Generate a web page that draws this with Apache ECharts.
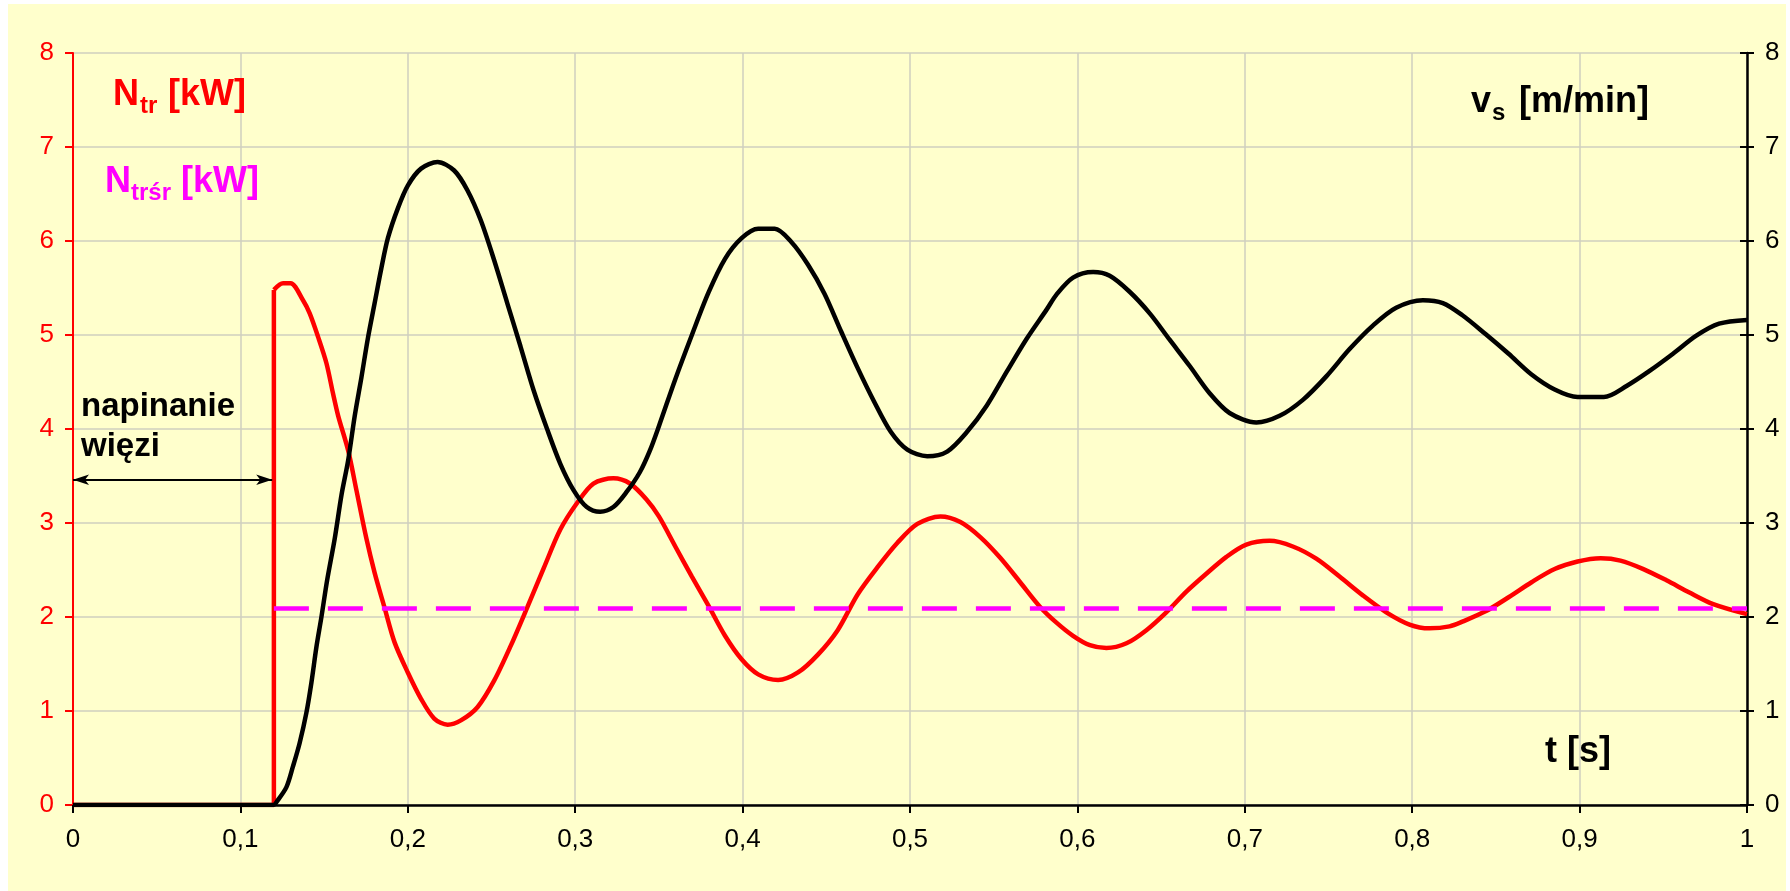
<!DOCTYPE html>
<html>
<head>
<meta charset="utf-8">
<style>
  html, body { margin: 0; padding: 0; background: #ffffff; }
  #bg { position: absolute; left: 8px; top: 4px; width: 1778px; height: 887px; background: #FFFFCC; }
  #c { position: absolute; left: 0; top: 0; width: 1790px; height: 891px; }
</style>
<script src="https://cdn.jsdelivr.net/npm/echarts/dist/echarts.min.js"></script>
</head>
<body>
<div id="bg"></div>
<div id="c"></div>
<script>
// ---- data ----
const xTicks = [0, 0.1, 0.2, 0.3, 0.4, 0.5, 0.6, 0.7, 0.8, 0.9, 1];
const yTicks = [0, 1, 2, 3, 4, 5, 6, 7, 8];

// N_tr [kW] (left axis)
const tN = [0, 0.12, 0.12, 0.1255, 0.13, 0.1374, 0.1414, 0.1464, 0.1514, 0.1553, 0.1584, 0.1644, 0.1693, 0.1752,
  0.1802, 0.1861, 0.1921, 0.2, 0.2079, 0.2158, 0.2238, 0.2317, 0.2416, 0.2515, 0.2614, 0.2713, 0.2812,
  0.2911, 0.301, 0.3109, 0.3228, 0.3327, 0.3426, 0.35, 0.3598, 0.3697, 0.3796, 0.3895, 0.3994, 0.4093,
  0.4212, 0.4331, 0.445, 0.4568, 0.4687, 0.4806, 0.4925, 0.5044, 0.5182, 0.5301, 0.542, 0.5539, 0.5658,
  0.5776, 0.5875, 0.5974, 0.6074, 0.6173, 0.6293, 0.6412, 0.6531, 0.6651, 0.677, 0.689, 0.7009, 0.7148,
  0.7287, 0.7427, 0.7566, 0.7705, 0.7845, 0.7984, 0.8103, 0.8223, 0.83, 0.8438, 0.8576, 0.8713, 0.8851,
  0.8988, 0.9126, 0.9244, 0.9381, 0.9519, 0.9656, 0.9794, 1.0];
const N = [0, 0, 5.48, 5.55, 5.55, 5.37, 5.23, 4.98, 4.70, 4.38, 4.14, 3.77, 3.35, 2.84,
  2.47, 2.10, 1.73, 1.41, 1.13, 0.92, 0.855, 0.90, 1.04, 1.32, 1.69, 2.10, 2.52,
  2.93, 3.21, 3.42, 3.475, 3.42, 3.25, 3.07, 2.75, 2.43, 2.12, 1.80, 1.55, 1.39,
  1.33, 1.41, 1.60, 1.86, 2.24, 2.53, 2.79, 2.99, 3.07, 3.01, 2.85, 2.63, 2.37,
  2.11, 1.94, 1.80, 1.70, 1.67, 1.72, 1.86, 2.05, 2.27, 2.46, 2.64, 2.77, 2.81,
  2.75, 2.62, 2.43, 2.23, 2.05, 1.92, 1.88, 1.90, 1.95, 2.06, 2.21, 2.37, 2.51,
  2.59, 2.625, 2.60, 2.51, 2.39, 2.26, 2.14, 2.03];

// v_s [m/min] (right axis)
const tV = [0, 0.12, 0.1215, 0.1275, 0.1314, 0.1354, 0.1394, 0.1424, 0.1454, 0.1484, 0.1518, 0.1564, 0.1604,
  0.1644, 0.1683, 0.1723, 0.1762, 0.1802, 0.1842, 0.1881, 0.1941, 0.2, 0.2079, 0.2178, 0.2277, 0.2356,
  0.2436, 0.2515, 0.2594, 0.2673, 0.2752, 0.2832, 0.2911, 0.299, 0.3069, 0.3149, 0.3228, 0.3307, 0.3386,
  0.3446, 0.35, 0.3598, 0.3697, 0.3796, 0.3895, 0.3994, 0.4093, 0.4192, 0.4291, 0.439, 0.4489, 0.4588,
  0.4687, 0.4786, 0.4885, 0.4984, 0.5103, 0.5222, 0.5341, 0.5459, 0.5578, 0.5697, 0.5816, 0.5875, 0.5974,
  0.6094, 0.6193, 0.6312, 0.6432, 0.6551, 0.6671, 0.679, 0.6909, 0.7069, 0.7208, 0.7347, 0.7487, 0.7626,
  0.7765, 0.7904, 0.8064, 0.8183, 0.83, 0.8438, 0.8576, 0.8713, 0.8851, 0.8988, 0.9145, 0.9283, 0.942,
  0.9558, 0.9695, 0.9833, 1.0];
const V = [0, 0, 0.03, 0.19, 0.41, 0.66, 0.98, 1.30, 1.68, 2.0, 2.39, 2.84, 3.30,
  3.67, 4.14, 4.55, 4.97, 5.34, 5.71, 6.03, 6.35, 6.59, 6.77, 6.84, 6.75, 6.54,
  6.22, 5.80, 5.34, 4.88, 4.41, 4.00, 3.63, 3.35, 3.17, 3.12, 3.17, 3.33, 3.54,
  3.77, 4.03, 4.53, 5.0, 5.45, 5.81, 6.03, 6.13, 6.13, 5.99, 5.75, 5.44, 5.04,
  4.65, 4.29, 3.97, 3.78, 3.71, 3.76, 3.97, 4.25, 4.61, 4.96, 5.27, 5.43, 5.61,
  5.67, 5.63, 5.46, 5.23, 4.95, 4.67, 4.38, 4.17, 4.07, 4.14, 4.31, 4.56, 4.85,
  5.10, 5.29, 5.37, 5.34, 5.21, 5.01, 4.80, 4.58, 4.42, 4.34, 4.34, 4.46, 4.62,
  4.80, 4.99, 5.12, 5.16];

// N_trśr [kW] mean line
const tMean = [0.12, 1.0];
const NMean = [2.09, 2.09];

// "napinanie więzi" arrow (t range, level)
const arrowT = [0, 0.119];
const arrowLevel = 3.46;

// ---- chart ----
const FONT = "'Liberation Sans', Arial, sans-serif";
const zip = (a, b) => a.map((x, i) => [x, b[i]]);
const fmt = v => String(Math.round(v * 10) / 10).replace('.', ',');
const JUMP = 2; // index of the step-up point in the N_tr series

function txt(text, x, baseline, size, color) {
  return {
    type: 'text', x: x, y: baseline - 0.35 * size, silent: true, z: 100,
    style: {
      text: text, fill: color, font: 'bold ' + size + 'px ' + FONT,
      align: 'left', verticalAlign: 'middle', textAlign: 'left', textVerticalAlign: 'middle'
    }
  };
}

const RED = '#ff0000', MAG = '#ff00ff', GRID = '#cfcfbf';
const chart = echarts.init(document.getElementById('c'), null, { renderer: 'canvas' });
chart.setOption({
  animation: false,
  backgroundColor: 'transparent',
  grid: { left: 73, right: 43, top: 53, bottom: 86, containLabel: false, outerBoundsMode: 'none' },
  xAxis: {
    type: 'value', min: xTicks[0], max: xTicks[xTicks.length - 1], interval: 0.1,
    axisLine: { show: true, onZero: false, lineStyle: { color: '#000', width: 2.5 } },
    axisTick: { show: true, length: 8, lineStyle: { color: '#000', width: 2 } },
    axisLabel: { color: '#000', fontSize: 26, fontFamily: FONT, margin: 22, formatter: fmt },
    splitLine: { show: true, lineStyle: { color: GRID, width: 1.5 } }
  },
  yAxis: [
    {
      type: 'value', position: 'left', min: yTicks[0], max: yTicks[yTicks.length - 1], interval: 1,
      axisLine: { show: true, lineStyle: { color: RED, width: 2 } },
      axisTick: { show: true, length: 8, lineStyle: { color: RED, width: 2 } },
      axisLabel: { color: RED, fontSize: 26, fontFamily: FONT, margin: 19 },
      splitLine: { show: true, lineStyle: { color: GRID, width: 1.5 } }
    },
    {
      type: 'value', position: 'right', min: yTicks[0], max: yTicks[yTicks.length - 1], interval: 1,
      axisLine: { show: true, lineStyle: { color: '#000', width: 2.5 } },
      axisTick: { show: true, length: 7, lineStyle: { color: '#000', width: 2 } },
      axisLabel: { color: '#000', fontSize: 26, fontFamily: FONT, margin: 18 },
      splitLine: { show: false }
    },
    {
      type: 'value', position: 'right', min: yTicks[0], max: yTicks[yTicks.length - 1], interval: 1,
      axisLine: { show: false },
      axisTick: { show: true, inside: true, length: 7, lineStyle: { color: '#000', width: 2 } },
      axisLabel: { show: false },
      splitLine: { show: false }
    }
  ],
  series: [
    {
      name: 'Ntr', type: 'line', yAxisIndex: 0,
      data: zip(tN.slice(0, JUMP + 1), N.slice(0, JUMP + 1)), showSymbol: false, smooth: false,
      lineStyle: { color: RED, width: 4.5 }, itemStyle: { color: RED }, z: 3
    },
    {
      name: 'Ntr', type: 'line', yAxisIndex: 0,
      data: zip(tN.slice(JUMP), N.slice(JUMP)), showSymbol: false, smooth: 0.3,
      lineStyle: { color: RED, width: 4.5 }, itemStyle: { color: RED }, z: 3
    },
    {
      name: 'vs', type: 'line', yAxisIndex: 1, data: zip(tV, V), showSymbol: false, smooth: 0.3,
      lineStyle: { color: '#000000', width: 4.5 }, itemStyle: { color: '#000' }, z: 4
    },
    {
      name: 'Ntrsr', type: 'line', yAxisIndex: 0, data: zip(tMean, NMean), showSymbol: false,
      lineStyle: { color: MAG, width: 4.5, type: [35, 19] }, itemStyle: { color: MAG }, z: 5,
      markLine: {
        silent: true, symbol: ['arrow', 'arrow'], symbolSize: [8, 16],
        label: { show: false },
        lineStyle: { color: '#000', width: 2, type: 'solid' },
        emphasis: { disabled: true },
        data: [[{ coord: [arrowT[0], arrowLevel] }, { coord: [arrowT[1], arrowLevel] }]]
      }
    }
  ],
  graphic: [
    txt('N', 113, 108, 36, RED),
    txt('tr', 140, 115, 24, RED),
    txt('[kW]', 168, 108, 36, RED),
    txt('N', 105, 195, 36, MAG),
    txt('trśr', 131, 202, 24, MAG),
    txt('[kW]', 181, 195, 36, MAG),
    txt('v', 1471, 115, 36, '#000'),
    txt('s', 1492, 122, 24, '#000'),
    txt('[m/min]', 1519, 115, 36, '#000'),
    txt('t [s]', 1545, 765, 36, '#000'),
    txt('napinanie', 81, 418, 33, '#000'),
    txt('więzi', 81, 458, 33, '#000')
  ]
});
</script>
</body>
</html>
